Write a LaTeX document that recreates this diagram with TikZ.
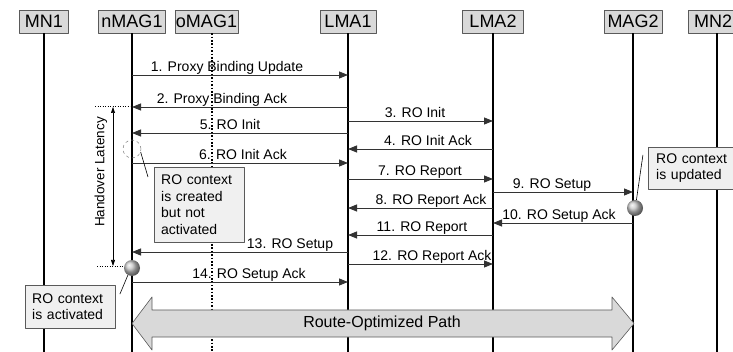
\documentclass[tikz,border=0pt]{standalone}
\usepackage{fontspec}
\setmainfont{Liberation Sans}
\usetikzlibrary{arrows.meta,positioning}
\definecolor{boxgray}{RGB}{217,217,217}
\definecolor{notegray}{RGB}{240,240,240}
\definecolor{edgegray}{RGB}{90,90,90}

\begin{document}
\begin{tikzpicture}[x=1pt, y=-1pt, line join=round,
  hdr/.style={draw=edgegray, fill=boxgray, minimum height=23pt, inner sep=1pt, font=\fontsize{18}{20}\selectfont},
  life/.style={line width=1.7pt},
  msg/.style={line width=0.8pt, black!80, -{Triangle[length=9pt,width=7pt]}},
  lbl/.style={anchor=base, inner sep=0pt, font=\fontsize{14}{16}\selectfont},
  note/.style={draw=edgegray, fill=notegray, align=left, anchor=north west, inner sep=0pt, font=\fontsize{14}{16.7}\selectfont},
  ctxball/.style={circle, minimum size=16pt, inner sep=0pt, shading=ball, ball color=gray!45},
  pointer/.style={line width=0.6pt}
]
\clip (0,0) rectangle (733,352);

% --- entities and life lines ---
\foreach \nm/\lab/\px/\bw in {mn1/MN1/44/49pt, nmag1/nMAG1/132/67pt, lma1/LMA1/348/56pt,
                              lma2/LMA2/493/61pt, mag2/MAG2/633/58pt} {
  \node[hdr, minimum width=\bw] (\nm) at (\px,21.5) {\lab};
  \draw[life] (\nm.south) -- (\nm.south |- 0,360);
}
% MN2 sits at the right edge of the picture
\node[hdr, minimum width=58pt, text width=46pt, align=left] (mn2) at (717,21.5) {MN2};
\draw[life] (mn2.south) -- (mn2.south |- 0,360);
\node[hdr, minimum width=53pt] (omag1) at (206.5,21.5) {oMAG1};
\draw[line width=1.7pt, dash pattern=on 1.7pt off 1.7pt] ([xshift=5.5pt]omag1.south) -- ++(0,330);

% --- signalling ---
\draw[msg] (nmag1 |- 0,75)  -- (lma1 |- 0,75);
\draw (227,72) node[lbl] {1. Proxy Binding Update};
\draw[msg] (lma1 |- 0,107)  -- (nmag1 |- 0,107);
\draw (222,104) node[lbl] {2. Proxy Binding Ack};
\draw[msg] (lma1 |- 0,121)  -- (lma2 |- 0,121);
\draw (415,118) node[lbl] {3. RO Init};
\draw[msg] (lma1 |- 0,133)  -- (nmag1 |- 0,133);
\draw (230,130) node[lbl] {5. RO Init};
\draw[msg] (lma2 |- 0,149)  -- (lma1 |- 0,149);
\draw (428,146) node[lbl] {4. RO Init Ack};
\draw[msg] (nmag1 |- 0,163) -- (lma1 |- 0,163);
\draw (243,160) node[lbl] {6. RO Init Ack};
\draw[msg] (lma1 |- 0,179)  -- (lma2 |- 0,179);
\draw (420,176) node[lbl] {7. RO Report};
\draw[msg] (lma2 |- 0,192)  -- (mag2 |- 0,192);
\draw (552,189) node[lbl] {9. RO Setup};
\draw[msg] (lma2 |- 0,208)  -- (lma1 |- 0,208);
\draw (431,205) node[lbl] {8. RO Report Ack};
\draw[msg] (mag2 |- 0,223)  -- (lma2 |- 0,223);
\draw (559,220) node[lbl] {10. RO Setup Ack};
\draw[msg] (lma2 |- 0,235)  -- (lma1 |- 0,235);
\draw (422,232) node[lbl] {11. RO Report};
\draw[msg] (lma1 |- 0,252)  -- (nmag1 |- 0,252);
\draw (290,249) node[lbl] {13. RO Setup};
\draw[msg] (lma1 |- 0,264)  -- (lma2 |- 0,264);
\draw (432,261) node[lbl] {12. RO Report Ack};
\draw[msg] (nmag1 |- 0,282) -- (lma1 |- 0,282);
\draw (249,279) node[lbl] {14. RO Setup Ack};

% --- handover latency ---
\coordinate (hotop) at (113,107);
\coordinate (hobot) at (113,266);
\draw[line width=1pt, dash pattern=on 1.2pt off 1.3pt] (95,106.5) -- (130,106.5);
\draw[line width=1pt, dash pattern=on 1.2pt off 1.3pt] (97,267) -- (124,267);
\draw[line width=0.6pt, {Triangle[length=6pt,width=4pt]}-{Triangle[length=6pt,width=4pt]}] (hotop) -- (hobot);
\node[rotate=90, inner sep=0pt, font=\fontsize{13.5}{15}\selectfont] (holat) at (101,172) {Handover Latency};

% --- RO context notes ---
\node[circle, draw=gray, dashed, line width=0.5pt, minimum size=18pt, inner sep=0pt] (crcirc) at (132,149) {};
\node[note, minimum width=90pt, minimum height=75pt, text width=76pt, inner xsep=7pt] (crbox) at (154,167)
  {RO context\\is created\\but not\\activated};
\draw[pointer] (crcirc.-20) -- (148,177);

\node[ctxball] (actball) at (132,268) {};
\node[note, minimum width=88pt, minimum height=43pt, text width=76pt, inner xsep=7pt] (actbox) at (25,285)
  {RO context\\is activated};
\draw[pointer] (actball.240) -- ++(-8,19);

\node[ctxball] (updball) at (635,208) {};
\node[note, minimum width=88pt, minimum height=42pt, text width=72pt, inner xsep=8pt] (updbox) at (648,147)
  {RO context\\is updated};
\draw[pointer] (updball.80) -- ++(6.5,-45);

% --- route-optimized path ---
\draw[draw=edgegray, fill=boxgray, line width=0.6pt]
  (132,323.5) -- (152,297) -- (152,310) -- (612,310) -- (612,297) -- (634,323.5)
  -- (612,350) -- (612,337) -- (152,337) -- (152,350) -- cycle;
\node[inner sep=0pt, font=\fontsize{16}{18}\selectfont] (ropath) at (382,323.5) {Route-Optimized Path};
\end{tikzpicture}
\end{document}
